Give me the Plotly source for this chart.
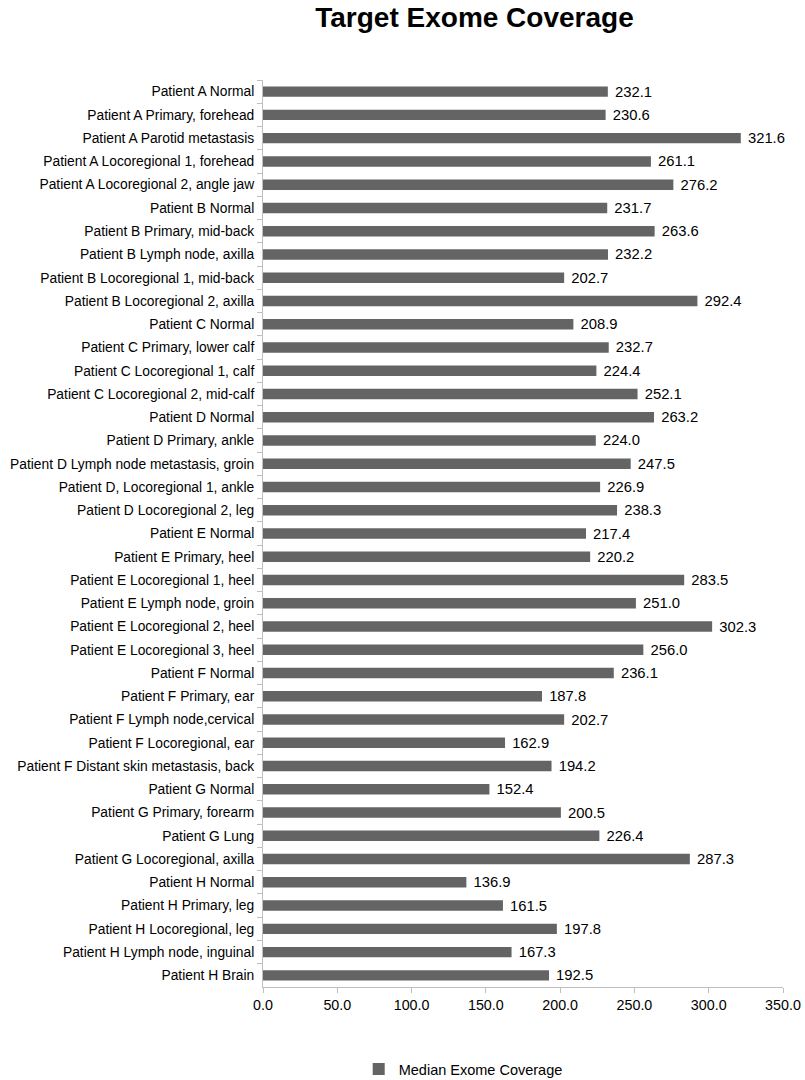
import plotly.graph_objects as go

categories = [
    "Patient A Normal",
    "Patient A Primary, forehead",
    "Patient A Parotid metastasis",
    "Patient A Locoregional 1, forehead",
    "Patient A Locoregional 2, angle jaw",
    "Patient B Normal",
    "Patient B Primary, mid-back",
    "Patient B Lymph node, axilla",
    "Patient B Locoregional 1, mid-back",
    "Patient B Locoregional 2, axilla",
    "Patient C Normal",
    "Patient C Primary, lower calf",
    "Patient C Locoregional 1, calf",
    "Patient C Locoregional 2, mid-calf",
    "Patient D Normal",
    "Patient D Primary, ankle",
    "Patient D Lymph node metastasis, groin",
    "Patient D, Locoregional 1, ankle",
    "Patient D Locoregional 2, leg",
    "Patient E Normal",
    "Patient E Primary, heel",
    "Patient E Locoregional 1, heel",
    "Patient E Lymph node, groin",
    "Patient E Locoregional 2, heel",
    "Patient E Locoregional 3, heel",
    "Patient F Normal",
    "Patient F Primary, ear",
    "Patient F Lymph node,cervical",
    "Patient F Locoregional, ear",
    "Patient F Distant skin metastasis, back",
    "Patient G Normal",
    "Patient G Primary, forearm",
    "Patient G Lung",
    "Patient G Locoregional, axilla",
    "Patient H Normal",
    "Patient H Primary, leg",
    "Patient H Locoregional, leg",
    "Patient H Lymph node, inguinal",
    "Patient H Brain",
]

median_coverage = [
    232.1, 230.6, 321.6, 261.1, 276.2,
    231.7, 263.6, 232.2, 202.7, 292.4,
    208.9, 232.7, 224.4, 252.1,
    263.2, 224.0, 247.5, 226.9, 238.3,
    217.4, 220.2, 283.5, 251.0, 302.3, 256.0,
    236.1, 187.8, 202.7, 162.9, 194.2,
    152.4, 200.5, 226.4, 287.3,
    136.9, 161.5, 197.8, 167.3, 192.5,
]

x_ticks = [0, 50, 100, 150, 200, 250, 300, 350]
x_tick_labels = ["0.0", "50.0", "100.0", "150.0", "200.0", "250.0", "300.0", "350.0"]

FONT = "Liberation Sans, Arial, sans-serif"

fig = go.Figure()
fig.add_trace(go.Bar(
    y=categories,
    x=median_coverage,
    orientation="h",
    name="Median Exome Coverage",
    marker=dict(color="#646464", line=dict(width=0)),
    width=0.45,
    texttemplate="\u00a0%{x:.1f}",
    textposition="outside",
    textfont=dict(family=FONT, size=14.8, color="#000000"),
    constraintext="none",
    cliponaxis=False,
))

fig.update_layout(
    width=805,
    height=1080,
    paper_bgcolor="white",
    plot_bgcolor="white",
    margin=dict(l=263, r=22, t=80, b=93, autoexpand=False),
    font=dict(family=FONT, size=13.8, color="#000000"),
    title=dict(
        text="<b>Target Exome Coverage</b>",
        font=dict(family=FONT, size=28, color="#000000"),
        x=(474.5 - 263) / 520, xref="paper", xanchor="center",
        y=1 - 16.7 / 1080, yref="container", yanchor="middle",
        pad=dict(t=0, b=0),
    ),
    showlegend=True,
    legend=dict(
        orientation="h",
        x=0.385, xanchor="center", xref="paper",
        y=-(1069 - 987) / 907, yref="paper", yanchor="middle",
        font=dict(family=FONT, size=14.5, color="#000000"),
    ),
)

fig.update_xaxes(
    range=[0, 350],
    tickvals=x_ticks,
    ticktext=x_tick_labels,
    showgrid=False,
    zeroline=False,
    showline=True,
    linecolor="#bfbfbf",
    linewidth=1,
    ticks="outside",
    ticklen=5,
    tickcolor="#bfbfbf",
    tickfont=dict(family=FONT, size=14.3, color="#000000"),
    automargin=False,
)

fig.update_yaxes(
    autorange="reversed",
    showgrid=False,
    zeroline=False,
    showline=True,
    linecolor="#bfbfbf",
    linewidth=1,
    ticks="outside",
    ticklen=5,
    tickcolor="#bfbfbf",
    tickson="boundaries",
    ticklabelstandoff=5,
    tickfont=dict(family=FONT, size=13.8, color="#000000"),
    automargin=False,
)

fig.write_html(
    "out.html",
    config={"displayModeBar": False},
    post_script="document.body.style.margin='0';document.body.style.overflow='hidden';",
)
